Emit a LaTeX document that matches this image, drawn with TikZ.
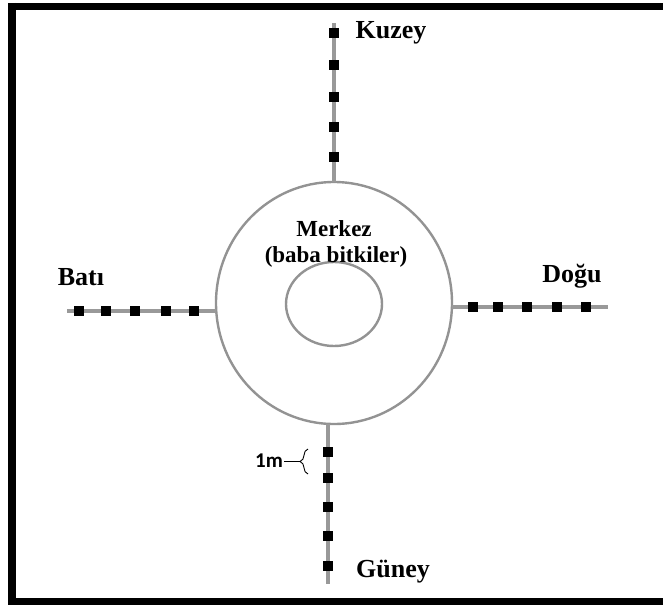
\documentclass[tikz,border=0pt]{standalone}
\usepackage{fontspec}
\setmainfont{Liberation Serif}
\newfontfamily\metrefont{Carlito}
\usetikzlibrary{decorations.pathreplacing}

\begin{document}
\begin{tikzpicture}[
  x=1pt, y=-1pt,
  frameline/.style={line width=7.5pt, line cap=butt},
  arm/.style={draw=gray!80, line width=3.2pt},
  ringline/.style={draw=gray!85, line width=2.4pt},
  stake/.style={fill=black, minimum width=10pt, minimum height=10pt, inner sep=0pt},
  dir/.style={font=\fontsize{26}{28}\selectfont\bfseries, anchor=base, inner sep=0pt},
  centre/.style={font=\fontsize{23}{26}\selectfont\bfseries, anchor=base, inner sep=0pt},
]
\useasboundingbox (0,0) rectangle (663,605);

% frame (cut off right and bottom)
\draw[frameline] (8.25,6.5) -- (663,6.5);
\draw[frameline] (12,2.75) -- (12,605);
\draw[frameline] (8.25,601.5) -- (663,601.5);

% centre plot: parent plants
\draw[ringline] (334,303) ellipse [x radius=118pt, y radius=121pt];
\draw[ringline] (334,304) ellipse [x radius=48pt, y radius=42pt];
\node[centre] (merkez) at (334,236) {Merkez};
\node[centre] (baba) at (336,262) {(baba bitkiler)};

% transect arms
\coordinate (n0) at (334,182); \coordinate (n1) at (334,23);
\coordinate (s0) at (328,424); \coordinate (s1) at (328,584);
\coordinate (w0) at (216,311); \coordinate (w1) at (67,311);
\coordinate (e0) at (452,307); \coordinate (e1) at (608,307);
\draw[arm] (n0) -- (n1);
\draw[arm] (s0) -- (s1);
\draw[arm] (w0) -- (w1);
\draw[arm] (e0) -- (e1);

% sampling points, 1 m apart
\foreach \yy in {33,65,97,127,157} \node[stake] at (334,\yy) {};
\foreach \yy in {452,478,507,536,566} \node[stake] at (328,\yy) {};
\foreach \xx in {79,106,135,166,194} \node[stake] at (\xx,311) {};
\foreach \xx in {473,498,527,557,586} \node[stake] at (\xx,307) {};

% direction labels
\node[dir] (kuzey) at (391,38) {Kuzey};
\node[dir] (guney) at (393,577) {Güney};
\node[dir] (bati) at (81,285) {Batı};
\node[dir] (dogu) at (572,282) {Doğu};

% spacing mark
\draw[decorate, decoration={brace, amplitude=8pt}, line width=0.9pt]
  (308,474) -- (308,449) coordinate[midway, xshift=-8pt] (bracetip);
\node[font=\metrefont\bfseries\fontsize{21}{23}\selectfont, anchor=base west, inner sep=1pt]
  (metre) at (254,467) {1m};
\draw[line width=0.9pt] (metre.east |- bracetip) -- (bracetip);
\end{tikzpicture}
\end{document}
